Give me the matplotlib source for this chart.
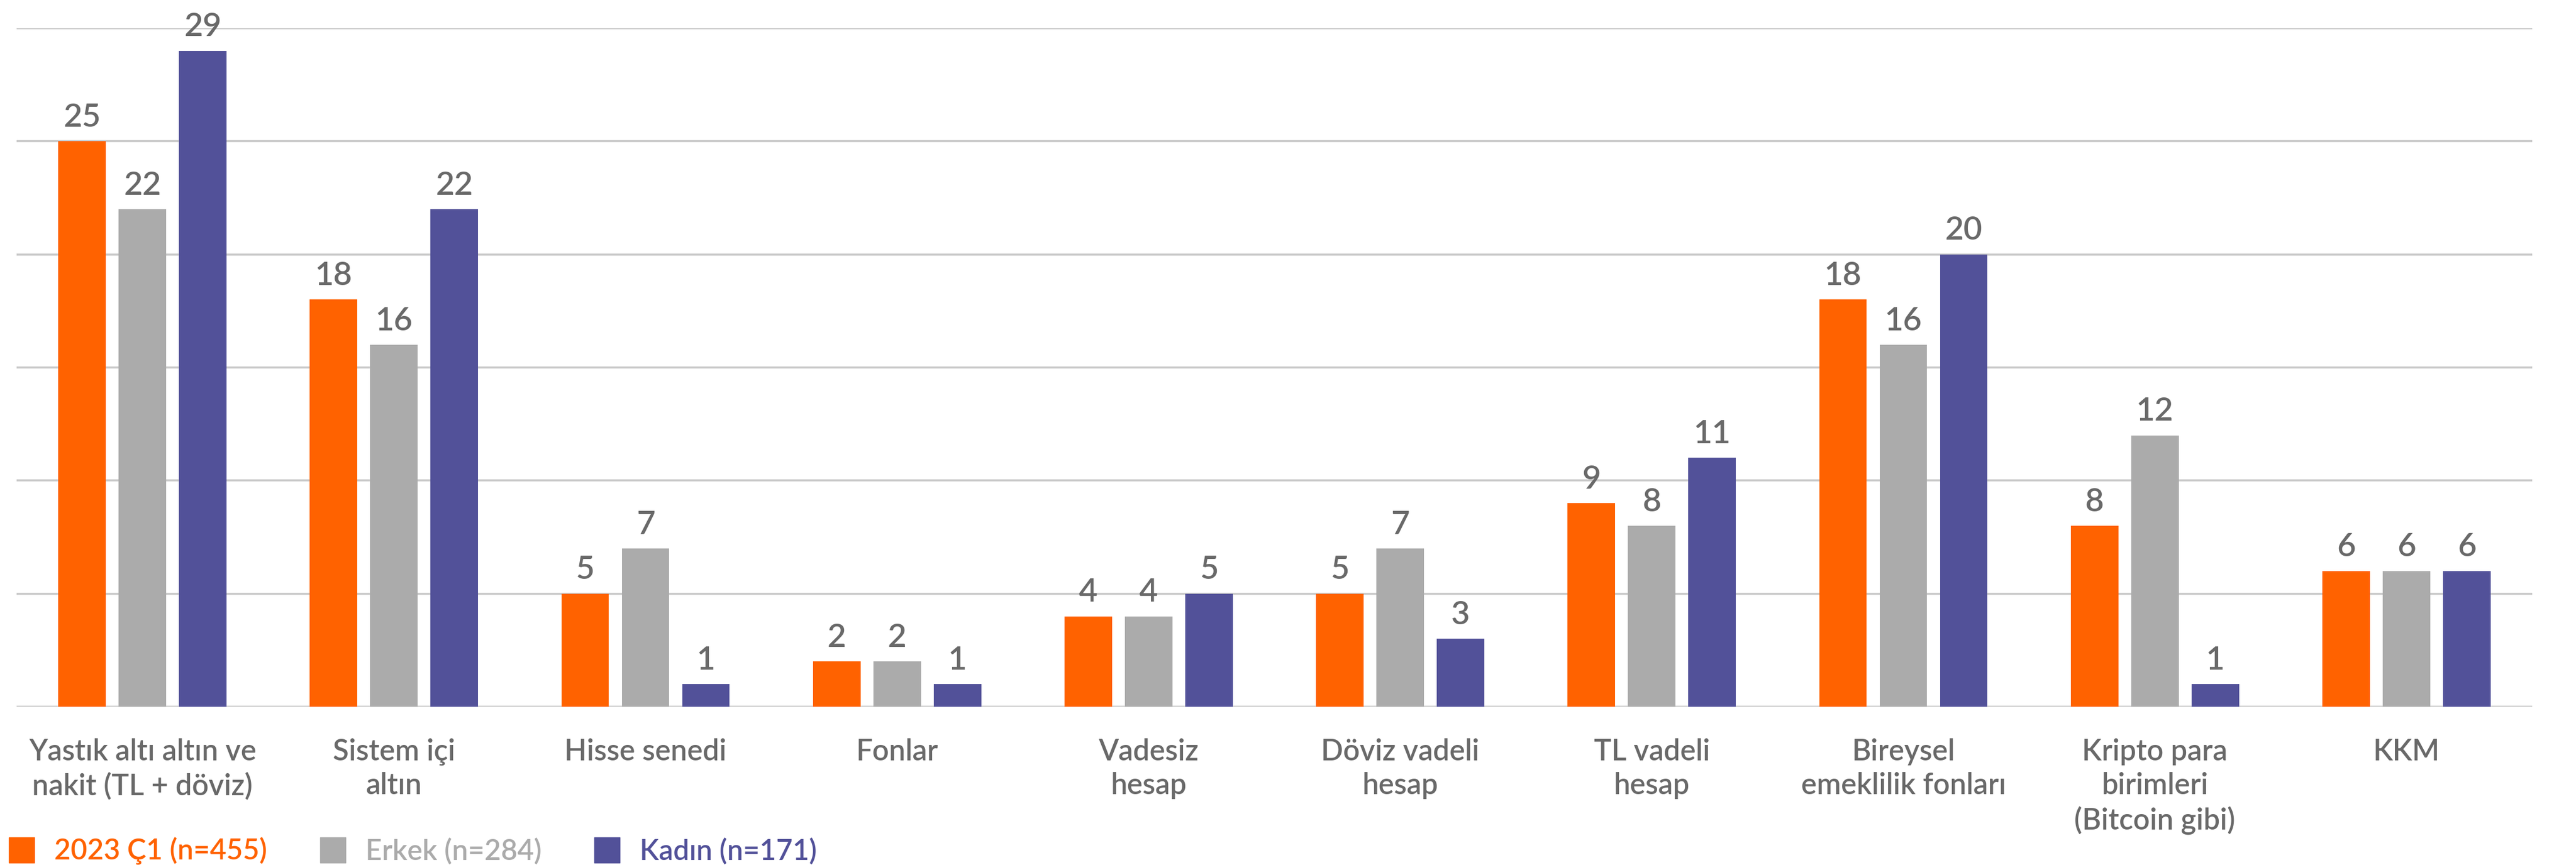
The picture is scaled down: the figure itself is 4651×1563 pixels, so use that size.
import matplotlib
matplotlib.use("Agg")
import matplotlib.pyplot as plt
from matplotlib.lines import Line2D
import numpy as np

categories = [
    "Yastık altı altın ve\nnakit (TL + döviz)",
    "Sistem içi\naltın",
    "Hisse senedi",
    "Fonlar",
    "Vadesiz\nhesap",
    "Döviz vadeli\nhesap",
    "TL vadeli\nhesap",
    "Bireysel\nemeklilik fonları",
    "Kripto para\nbirimleri\n(Bitcoin gibi)",
    "KKM",
]
series_names = ["2023 Ç1 (n=455)", "Erkek (n=284)", "Kadın (n=171)"]
vals_total = [25, 18, 5, 2, 4, 5, 9, 18, 8, 6]
vals_erkek = [22, 16, 7, 2, 4, 7, 8, 16, 12, 6]
vals_kadin = [29, 22, 1, 1, 5, 3, 11, 20, 1, 6]
yticks = [0, 5, 10, 15, 20, 25, 30]

colors = ["#FF6200", "#ABABAB", "#525199"]
text_gray = "#696969"
grid_gray = "#C8C8C8"

fam = ["Lato", "DejaVu Sans"]

W, H = 4651, 1563
fig = plt.figure(figsize=(W / 100, H / 100), dpi=100)
ax = fig.add_axes([30 / W, 1 - 1277 / H, (4572 - 30) / W, (1277 - 51) / H])

x = np.arange(len(categories))
width = 0.189
step = 0.240
all_vals = [vals_total, vals_erkek, vals_kadin]
for i, (vals, c) in enumerate(zip(all_vals, colors)):
    bars = ax.bar(x + (i - 1) * step, vals, width=width, color=c, zorder=3)
    for b, v in zip(bars, vals):
        ax.annotate(str(v), (b.get_x() + b.get_width() / 2, v),
                    xytext=(0, 19), textcoords="offset points",
                    ha="center", va="baseline", fontsize=42, fontweight="semibold",
                    color=text_gray, family=fam, clip_on=False, zorder=4)

for yv in yticks:
    ax.axhline(yv, color=grid_gray, lw=2.6, zorder=1)

ax.set_xlim(-0.5, 9.5)
ax.set_ylim(0, 30)
ax.set_yticks([])
ax.set_xticks(x)
ax.set_xticklabels(categories, fontsize=38, color=text_gray, family=fam,
                   fontweight="semibold", linespacing=1.3)
ax.tick_params(axis="x", length=0, pad=41)
for s in ax.spines.values():
    s.set_visible(False)

handles = [Line2D([0], [0], marker="s", linestyle="none", markersize=33,
                  markerfacecolor=c, markeredgecolor=c) for c in colors]
leg = fig.legend(handles, series_names, loc="center left",
                 bbox_to_anchor=(0.004, 0.016), ncol=3, frameon=False,
                 prop={"family": fam, "size": 37, "weight": "semibold"},
                 handlelength=0.8, handletextpad=0.75, columnspacing=1.9,
                 borderaxespad=0, borderpad=0)
for t, c in zip(leg.get_texts(), colors):
    t.set_color(c)

fig.savefig("out.png", dpi=100)
